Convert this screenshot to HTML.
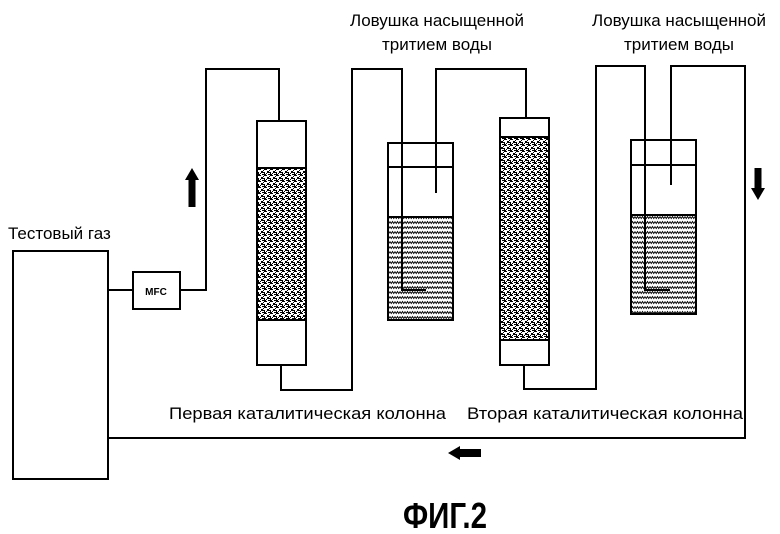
<!DOCTYPE html>
<html><head><meta charset="utf-8"><style>
html,body{margin:0;padding:0;background:#fff;}
svg{display:block;}
text{font-family:"Liberation Sans",sans-serif;fill:#000;}
</style></head><body>
<svg width="780" height="534" viewBox="0 0 780 534" xmlns="http://www.w3.org/2000/svg">
<defs>
<pattern id="st" width="6" height="6" patternUnits="userSpaceOnUse">
<rect width="6" height="6" fill="#fff"/>
<path d="M0 0h2v1h1v1H0zM3 3h2v1h1v1H3zM4 0h2v1H4zM0 4h1v2H0zM2 5h1v1H2zM5 2h1v1H5z" fill="#000"/>
</pattern>
<pattern id="zz" width="5" height="5" patternUnits="userSpaceOnUse">
<rect width="5" height="5" fill="#fff"/>
<path d="M0 1.5L1.25 3.5L2.5 1.5L3.75 3.5L5 1.5" fill="none" stroke="#000" stroke-width="0.9"/>
</pattern>
</defs>
<!-- fills first -->
<rect x="258" y="168" width="47" height="152" fill="url(#st)"/>
<rect x="501" y="137" width="47" height="203" fill="url(#st)"/>
<rect x="388" y="217" width="65" height="103" fill="url(#zz)"/>
<rect x="631" y="215" width="65" height="99" fill="url(#zz)"/>
<g fill="none" stroke="#000" stroke-width="2">
<rect x="13" y="251" width="95" height="228"/>
<line x1="108" y1="290" x2="133" y2="290"/>
<rect x="133" y="272" width="47" height="37"/>
<polyline points="180,290 206,290 206,69 279,69 279,121"/>
<rect x="257" y="121" width="49" height="244"/>
<line x1="257" y1="168" x2="306" y2="168"/>
<line x1="257" y1="320" x2="306" y2="320"/>
<polyline points="281,365 281,390 352,390 352,69 402,69 402,290 426,290"/>
<rect x="388" y="143" width="65" height="177"/>
<line x1="388" y1="167" x2="453" y2="167"/>
<line x1="388" y1="217" x2="453" y2="217"/>
<polyline points="436,193 436,69 526,69 526,118"/>
<rect x="500" y="118" width="49" height="247"/>
<line x1="500" y1="137" x2="549" y2="137"/>
<line x1="500" y1="340" x2="549" y2="340"/>
<polyline points="524,365 524,389 596,389 596,66 645,66 645,290 670,290"/>
<rect x="631" y="140" width="65" height="174"/>
<line x1="631" y1="165" x2="696" y2="165"/>
<line x1="631" y1="215" x2="696" y2="215"/>
<polyline points="671,185 671,66 745,66 745,438 108,438"/>
</g>
<path d="M192 168 L199 180 L195.5 180 L195.5 207 L188.5 207 L188.5 180 L185 180 Z" fill="#000"/>
<path d="M758 200 L765 188 L761.5 188 L761.5 168 L754.5 168 L754.5 188 L751 188 Z" fill="#000"/>
<path d="M448 453 L460 446 L460 449 L481 449 L481 457 L460 457 L460 460 Z" fill="#000"/>
<text x="8" y="239" font-size="17">Тестовый газ</text>
<text x="156" y="295" font-size="10" font-weight="bold" text-anchor="middle">MFC</text>
<text x="437" y="26" font-size="17" text-anchor="middle">Ловушка насыщенной</text>
<text x="437" y="50" font-size="17" text-anchor="middle">тритием воды</text>
<text x="679" y="26" font-size="17" text-anchor="middle">Ловушка насыщенной</text>
<text x="679" y="50" font-size="17" text-anchor="middle">тритием воды</text>
<text x="169" y="419" font-size="17" textLength="277" lengthAdjust="spacingAndGlyphs">Первая каталитическая колонна</text>
<text x="467" y="419" font-size="17" textLength="276" lengthAdjust="spacingAndGlyphs">Вторая каталитическая колонна</text>
<text x="403" y="528" font-size="36" font-weight="bold" textLength="84" lengthAdjust="spacingAndGlyphs">ФИГ.2</text>
</svg>
</body></html>
